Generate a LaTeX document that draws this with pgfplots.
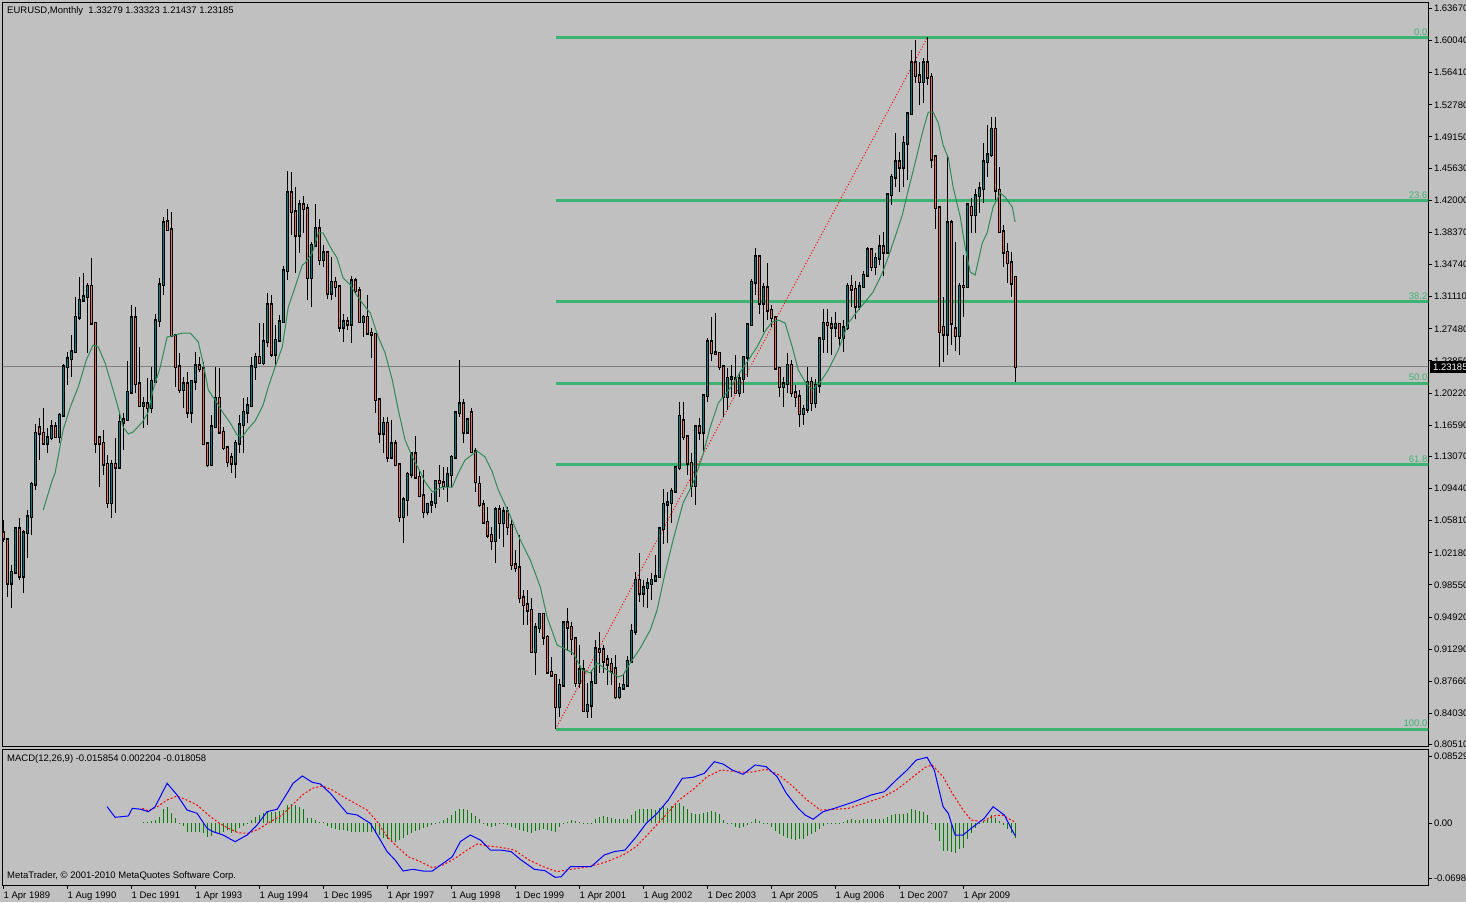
\documentclass[border=0pt]{standalone}
\usepackage{pgfplots}
\pgfplotsset{compat=1.18}
\usepackage{pgfplotstable}
\usepackage{fontspec}
\setmainfont{Liberation Sans}
\definecolor{bgc}{RGB}{192,192,192}
\definecolor{bullc}{RGB}{0,128,128}
\definecolor{bearc}{RGB}{230,112,88}
\definecolor{fibc}{RGB}{60,179,113}
\definecolor{mac}{RGB}{46,139,87}
\definecolor{histc}{RGB}{0,128,0}
\newcommand{\fs}{\fontsize{9.5}{11}\selectfont}

\pgfplotstableread{
m o h l c
2 0.9877 1.0081 0.9595 1.0001
3 1.0001 1.0510 0.9990 1.0487
5 0.9956 1.0476 0.9764 1.0442
6 1.0442 1.0702 1.0160 1.0623
7 1.0623 1.1018 1.0419 1.0995
8 1.0995 1.1673 1.0927 1.1571
11 1.1458 1.1628 1.1345 1.1515
12 1.1515 1.1718 1.1492 1.1639
14 1.1526 1.1797 1.1458 1.1774
15 1.1774 1.2350 1.1752 1.2317
16 1.2317 1.2486 1.2113 1.2407
17 1.2407 1.2678 1.2204 1.2486
18 1.2486 1.3107 1.2475 1.2881
19 1.2881 1.3333 1.2847 1.3073
20 1.3073 1.3378 1.3051 1.3107
21 1.3107 1.3265 1.2475 1.3231
27 1.0781 1.1266 1.0611 1.1221
29 1.1187 1.1797 1.1180 1.1695
30 1.1695 1.1797 1.1379 1.1718
31 1.1718 1.2384 1.1710 1.2034
32 1.2034 1.3017 1.2020 1.2870
35 1.1876 1.1978 1.1628 1.1899
37 1.1854 1.2317 1.1797 1.2158
38 1.2158 1.2915 1.2150 1.2836
39 1.2836 1.3322 1.2768 1.3243
40 1.3243 1.4010 1.3130 1.3943
45 1.2057 1.2204 1.1854 1.2125
47 1.1808 1.2170 1.1684 1.2158
48 1.2158 1.2486 1.2057 1.2328
52 1.1210 1.1774 1.1200 1.1639
53 1.1639 1.2317 1.1630 1.1966
58 1.1232 1.1492 1.1063 1.1458
59 1.1458 1.1774 1.1345 1.1662
60 1.1662 1.1966 1.1345 1.1808
61 1.1808 1.1978 1.1684 1.1876
62 1.1876 1.2429 1.1870 1.2317
63 1.2317 1.2475 1.2170 1.2429
65 1.2362 1.2813 1.2339 1.2599
66 1.2599 1.3152 1.2542 1.3017
68 1.2463 1.2791 1.2339 1.2621
69 1.2621 1.2904 1.2599 1.2825
70 1.2825 1.3457 1.2813 1.3401
71 1.3401 1.4530 1.3299 1.4282
74 1.3807 1.4202 1.3604 1.4146
77 1.3322 1.3728 1.2994 1.3694
78 1.3694 1.4157 1.3690 1.3875
80 1.3525 1.3694 1.3446 1.3604
82 1.3152 1.3559 1.3073 1.3276
85 1.2768 1.2915 1.2599 1.2825
87 1.2802 1.3344 1.2588 1.3288
90 1.2825 1.2904 1.2655 1.2881
95 1.1571 1.1752 1.1345 1.1684
97 1.1300 1.1718 1.1278 1.1447
100 1.0623 1.0848 1.0329 1.0815
101 1.0815 1.1131 1.0634 1.1108
102 1.1108 1.1345 1.1063 1.1334
106 1.0679 1.0781 1.0645 1.0769
107 1.0769 1.0894 1.0668 1.0781
108 1.0781 1.1040 1.0724 1.1029
111 1.0973 1.1187 1.0792 1.1097
112 1.1097 1.1323 1.0961 1.1300
113 1.1300 1.1808 1.1295 1.1797
114 1.1797 1.2396 1.1752 1.1899
116 1.1582 1.1725 1.1575 1.1718
123 1.0352 1.0735 1.0103 1.0702
125 1.0555 1.0735 1.0284 1.0679
133 0.9098 0.9426 0.8838 0.9369
134 0.9369 0.9538 0.9313 0.9527
139 0.8477 0.8793 0.8364 0.8725
140 0.8725 0.9437 0.8703 0.9426
144 0.8748 0.9177 0.8691 0.8895
146 0.8432 0.8748 0.8353 0.8499
147 0.8499 0.8895 0.8353 0.8748
148 0.8748 0.9234 0.8740 0.9132
154 0.8590 0.8748 0.8567 0.8691
155 0.8691 0.8838 0.8669 0.8725
156 0.8725 0.9053 0.8703 0.8996
157 0.8996 0.9414 0.8985 0.9335
158 0.9335 1.0001 0.9290 0.9911
160 0.9764 0.9911 0.9606 0.9821
161 0.9821 0.9934 0.9595 0.9866
162 0.9866 0.9990 0.9685 0.9911
163 0.9911 1.0193 0.9889 0.9945
164 0.9945 1.0510 0.9934 1.0487
165 1.0487 1.0939 1.0318 1.0769
166 1.0769 1.0905 1.0329 1.0781
167 1.0781 1.0950 1.0555 1.0916
168 1.0916 1.1180 1.0894 1.1176
169 1.1176 1.1921 1.1153 1.1763
173 1.0973 1.1645 1.0758 1.1639
175 1.1582 1.2012 1.1357 1.1989
176 1.1989 1.2644 1.1921 1.2599
181 1.1978 1.2305 1.1831 1.2192
182 1.2192 1.2339 1.1978 1.2195
184 1.2023 1.2260 1.1978 1.2181
185 1.2181 1.2435 1.2023 1.2429
186 1.2429 1.2802 1.2204 1.2791
187 1.2791 1.3310 1.2780 1.3276
188 1.3276 1.3660 1.3130 1.3559
190 1.3039 1.3265 1.2712 1.3209
195 1.2091 1.2204 1.1865 1.2125
196 1.2125 1.2475 1.2023 1.2339
200 1.1786 1.1887 1.1662 1.1842
201 1.1842 1.2317 1.1797 1.2147
203 1.1910 1.2181 1.1854 1.2113
204 1.2113 1.2644 1.2023 1.2633
205 1.2633 1.2972 1.2475 1.2813
208 1.2768 1.2938 1.2655 1.2802
210 1.2655 1.2847 1.2486 1.2757
211 1.2757 1.3265 1.2734 1.3231
214 1.3005 1.3276 1.2960 1.3220
215 1.3220 1.3401 1.3209 1.3355
216 1.3355 1.3672 1.3344 1.3638
218 1.3446 1.3604 1.3355 1.3547
219 1.3547 1.3807 1.3468 1.3672
221 1.3615 1.4282 1.3610 1.4259
222 1.4259 1.4496 1.4146 1.4462
223 1.4462 1.4959 1.4349 1.4632
225 1.4575 1.4925 1.4349 1.4846
226 1.4846 1.5185 1.4428 1.5174
227 1.5174 1.5896 1.5165 1.5750
230 1.5535 1.5806 1.5298 1.5750
236 1.2689 1.4711 1.2452 1.3943
239 1.2667 1.3265 1.2452 1.3231
241 1.3220 1.4169 1.3215 1.4146
243 1.4033 1.4327 1.3830 1.4248
244 1.4248 1.4406 1.4056 1.4327
245 1.4327 1.4846 1.4169 1.4632
246 1.4632 1.5049 1.4462 1.4711
247 1.4711 1.5140 1.4688 1.5004
}\bull

\pgfplotstableread{
m o h l c
0 1.0442 1.0589 1.0340 1.0385
1 1.0363 1.0370 0.9719 0.9877
4 1.0487 1.0611 0.9911 0.9956
9 1.1628 1.1741 1.1266 1.1571
10 1.1571 1.1854 1.1450 1.1458
13 1.1639 1.1695 1.1515 1.1526
22 1.3231 1.3547 1.2800 1.2813
23 1.2813 1.2825 1.1345 1.1458
24 1.1515 1.1530 1.0961 1.1458
25 1.1458 1.1605 1.1097 1.1221
26 1.1221 1.1323 1.0724 1.0781
28 1.1221 1.1515 1.0668 1.1187
33 1.2870 1.2994 1.2023 1.2125
34 1.2125 1.2542 1.1870 1.1876
36 1.1899 1.2192 1.1662 1.1854
41 1.3954 1.4101 1.3855 1.3864
42 1.3864 1.4067 1.2655 1.2667
43 1.2667 1.2680 1.2091 1.2317
44 1.2317 1.2475 1.2023 1.2057
46 1.2125 1.2260 1.1741 1.1808
49 1.2328 1.2429 1.2260 1.2294
50 1.2294 1.2373 1.1436 1.1447
51 1.1447 1.1447 1.1187 1.1210
54 1.1966 1.2305 1.1571 1.1582
55 1.1582 1.1639 1.1379 1.1402
56 1.1402 1.1410 1.1187 1.1244
57 1.1289 1.1345 1.1119 1.1232
64 1.2429 1.2813 1.2355 1.2362
67 1.3017 1.3130 1.2429 1.2463
72 1.4282 1.4519 1.3807 1.4067
73 1.4067 1.4349 1.3378 1.3807
75 1.4146 1.4248 1.3830 1.4101
76 1.4101 1.4157 1.3073 1.3322
79 1.3875 1.3988 1.3468 1.3525
81 1.3604 1.3627 1.3084 1.3152
83 1.3276 1.3333 1.3107 1.3220
84 1.3220 1.3225 1.2712 1.2768
86 1.2825 1.2881 1.2734 1.2802
88 1.3288 1.3322 1.3152 1.3175
89 1.3175 1.3220 1.2813 1.2825
91 1.2881 1.3130 1.2695 1.2700
92 1.2700 1.2757 1.2418 1.2689
93 1.2689 1.2695 1.1797 1.1944
94 1.1944 1.1950 1.1458 1.1571
96 1.1684 1.1752 1.1244 1.1300
98 1.1447 1.1492 1.1199 1.1210
99 1.1210 1.1215 1.0566 1.0623
103 1.1334 1.1537 1.1052 1.1074
104 1.1074 1.1153 1.0848 1.0860
105 1.0860 1.1153 1.0611 1.0679
109 1.1029 1.1210 1.0848 1.1007
110 1.1007 1.1187 1.0927 1.0973
115 1.1899 1.1955 1.1458 1.1582
117 1.1797 1.1854 1.1350 1.1357
118 1.1357 1.1402 1.0905 1.1018
119 1.0995 1.1086 1.0735 1.0758
120 1.0758 1.0815 1.0555 1.0566
121 1.0566 1.0735 1.0385 1.0419
122 1.0419 1.0510 1.0250 1.0352
124 1.0702 1.0758 1.0374 1.0555
126 1.0679 1.0735 1.0419 1.0510
127 1.0532 1.0611 1.0024 1.0081
128 1.0081 1.0250 1.0001 1.0047
129 1.0047 1.0419 0.9651 0.9708
130 0.9708 0.9798 0.9403 0.9629
131 0.9629 0.9798 0.9403 0.9572
132 0.9572 0.9708 0.9090 0.9098
135 0.9527 0.9538 0.9177 0.9267
136 0.9267 0.9290 0.8861 0.8872
137 0.8872 0.9042 0.8816 0.8838
138 0.8838 0.8845 0.8228 0.8477
141 0.9426 0.9595 0.9109 0.9380
142 0.9380 0.9437 0.9064 0.9245
143 0.9245 0.9267 0.8703 0.8748
145 0.8895 0.9008 0.8425 0.8432
149 0.9121 0.9324 0.8861 0.9098
150 0.9121 0.9177 0.8861 0.8996
151 0.9008 0.9064 0.8725 0.8962
152 0.8962 0.9030 0.8725 0.8883
153 0.8906 0.9064 0.8567 0.8590
159 0.9911 1.0216 0.9663 0.9764
170 1.1707 1.1921 1.1492 1.1526
171 1.1526 1.1549 1.1097 1.1232
172 1.1232 1.1345 1.0848 1.0973
174 1.1639 1.1741 1.1492 1.1582
177 1.2599 1.2881 1.2384 1.2475
178 1.2475 1.2926 1.2463 1.2470
179 1.2470 1.2486 1.2283 1.2317
180 1.2317 1.2339 1.1752 1.1978
183 1.2181 1.2452 1.2015 1.2023
189 1.3559 1.3581 1.2915 1.3039
191 1.3209 1.3491 1.2847 1.2960
192 1.2960 1.3017 1.2768 1.2870
193 1.2870 1.2881 1.2283 1.2305
194 1.2305 1.2310 1.1978 1.2091
197 1.2339 1.2396 1.1978 1.2023
198 1.2023 1.2113 1.1865 1.1978
199 1.1978 1.2057 1.1639 1.1786
202 1.2147 1.2204 1.1820 1.1910
206 1.2813 1.2972 1.2475 1.2791
207 1.2791 1.2881 1.2452 1.2768
209 1.2802 1.2810 1.2542 1.2655
212 1.3231 1.3355 1.2994 1.3197
213 1.3197 1.3288 1.2859 1.3005
217 1.3638 1.3660 1.3401 1.3446
220 1.3672 1.3841 1.3344 1.3615
224 1.4632 1.4745 1.4293 1.4575
228 1.5750 1.6009 1.5524 1.5603
229 1.5603 1.5761 1.5275 1.5535
231 1.5750 1.6038 1.5501 1.5591
232 1.5591 1.5637 1.4564 1.4665
233 1.4688 1.4700 1.3875 1.4112
234 1.4112 1.4120 1.2317 1.2712
235 1.2768 1.3107 1.2373 1.2689
237 1.3943 1.3977 1.2565 1.2813
238 1.2746 1.3728 1.2497 1.2667
240 1.3231 1.3581 1.2881 1.3220
242 1.4123 1.4225 1.3830 1.4033
248 1.5004 1.5140 1.4202 1.4315
249 1.4315 1.4575 1.3835 1.3841
250 1.3841 1.3920 1.3446 1.3615
251 1.3615 1.3717 1.3265 1.3491
252 1.3491 1.3615 1.3107 1.3265
253 1.33279 1.33323 1.21437 1.23185
}\bear

\begin{document}
\begin{tikzpicture}[x=1pt,y=1pt]
\fill[bgc] (0pt,0pt) rectangle (1466pt,902pt);

\begin{axis}[
  at={(2.7pt,155.3pt)}, anchor=south west,
  scale only axis, width=1425.6pt, height=744pt,
  xmin=-0.2, xmax=356.2, ymin=0.80285, ymax=1.64305,
  axis line style={line width=1pt, black},
  xtick=\empty,
  scaled y ticks=false,
  ytick={1.6367,1.6004,1.5641,1.5278,1.4915,1.4563,1.42,1.3837,1.3474,1.3111,1.2748,1.2385,1.2022,1.1659,1.1307,1.0944,1.0581,1.0218,0.9855,0.9492,0.9129,0.8766,0.8403,0.8051},
  yticklabels={1.63670,1.60040,1.56410,1.52780,1.49150,1.45630,1.42000,1.38370,1.34740,1.31110,1.27480,1.23850,1.20220,1.16590,1.13070,1.09440,1.05810,1.02180,0.98550,0.94920,0.91290,0.87660,0.84030,0.80510},
  ytick pos=right, yticklabel pos=right,
  tick align=outside, major tick length=4pt,
  tick style={black, line width=1pt},
  yticklabel style={anchor=west, inner sep=0pt, xshift=1.5pt, font=\fs},
  /pgf/number format/assume math mode=true,
]
% Fibonacci levels
\addplot[fibc, line width=3pt, forget plot] coordinates {(138,1.6038) (360,1.6038)};
\addplot[fibc, line width=3pt, forget plot] coordinates {(138,1.41948) (360,1.41948)};
\addplot[fibc, line width=3pt, forget plot] coordinates {(138,1.30546) (360,1.30546)};
\addplot[fibc, line width=3pt, forget plot] coordinates {(138,1.2133) (360,1.2133)};
\addplot[fibc, line width=3pt, forget plot] coordinates {(138,1.12114) (360,1.12114)};
\addplot[fibc, line width=3pt, forget plot] coordinates {(138,0.8228) (360,0.8228)};
% Fibonacci trend line
\addplot[red, line width=1pt, dash pattern=on 1pt off 2pt, forget plot] coordinates {(138,0.8228) (231,1.6038)};
% current price line
\addplot[gray, line width=1pt, forget plot] coordinates {(-5,1.23185) (360,1.23185)};

% candles: wicks
\addplot[black, line width=1pt, -, forget plot, quiver={u=0, v=\thisrow{h}-\thisrow{l}}] table[x=m, y=l] {\bull};
\addplot[black, line width=1pt, -, forget plot, quiver={u=0, v=\thisrow{h}-\thisrow{l}}] table[x=m, y=l] {\bear};
% candle bodies (outline)
\addplot[black, line width=3pt, line cap=rect, -, forget plot, quiver={u=0, v=\thisrow{c}-\thisrow{o}}] table[x=m, y=o] {\bull};
\addplot[black, line width=3pt, line cap=rect, -, forget plot, quiver={u=0, v=\thisrow{o}-\thisrow{c}}] table[x=m, y=c] {\bear};
% candle bodies (fill)
\addplot[bullc, line width=1.2pt, line cap=butt, -, forget plot, quiver={u=0, v=\thisrow{c}-\thisrow{o}}] table[x=m, y=o] {\bull};
\addplot[bearc, line width=1.2pt, line cap=butt, -, forget plot, quiver={u=0, v=\thisrow{o}-\thisrow{c}}] table[x=m, y=c] {\bear};

% moving average
\addplot[mac, line width=1pt, forget plot] coordinates {
(9.93,1.0702) (12.2,1.1040) (12.9,1.1119) (14.9,1.1605) (16.7,1.1865) (18.7,1.2091) (20.7,1.2396) (22.4,1.2565) (23.7,1.2542) (25.4,1.2362) (27.4,1.2057) (28.9,1.1820) (29.9,1.1639) (31.2,1.1560) (32.4,1.1582) (34.7,1.1695) (36.2,1.1808) (37.4,1.2057) (39.2,1.2317) (40.9,1.2655) (42.2,1.2667) (44.7,1.2700) (46.7,1.2700) (48.7,1.2599) (49.9,1.2362) (51.2,1.2057) (53.4,1.1910) (54.9,1.1797) (56.7,1.1684) (58.4,1.1548) (59.7,1.1526) (60.9,1.1605) (62.9,1.1707) (64.9,1.1887) (66.2,1.2091) (67.9,1.2317) (69.7,1.2542) (71.2,1.2994) (72.9,1.3220) (74.7,1.3468) (75.4,1.3491) (77.2,1.3604) (78.7,1.3830) (79.9,1.3830) (81.7,1.3672) (83.4,1.3547) (84.9,1.3322) (86.7,1.3243) (87.9,1.3152) (89.7,1.3039) (91.7,1.2926) (93.7,1.2655) (95.4,1.2475) (97.2,1.2170) (98.7,1.1831) (100.4,1.1492) (102.2,1.1300) (103.7,1.1176) (105.4,1.1018) (107.2,1.0905) (109.7,1.0961) (112.2,1.0961) (113.7,1.1119) (115.4,1.1266) (118.4,1.1368) (120.4,1.1300) (122.2,1.1131) (123.7,1.0927) (126.7,1.0634) (129.2,1.0363) (131.7,1.0137) (134.2,0.9832) (135.9,0.9493) (138.4,0.9177) (140.9,0.9121) (142.4,0.9087) (144.7,0.8895) (146.7,0.8861) (148.4,0.8974) (150.9,0.8895) (153.7,0.8816) (154.9,0.8838) (156.7,0.8974) (159.2,0.9143) (161.7,0.9346) (163.4,0.9572) (165.4,0.9990) (167.4,1.0363) (169.9,1.0781) (172.4,1.1007) (174.7,1.1300) (176.7,1.1639) (178.7,1.1910) (181.7,1.2079) (184.2,1.2260) (186.7,1.2429) (188.4,1.2542) (190.4,1.2723) (192.2,1.2825) (193.7,1.2847) (195.4,1.2813) (197.2,1.2542) (198.7,1.2283) (200.4,1.2147) (202.2,1.2057) (204.2,1.2147) (206.2,1.2283) (208.7,1.2508) (211.2,1.2813) (213.7,1.2960) (215.4,1.3051) (217.4,1.3164) (219.7,1.3378) (221.2,1.3559) (222.9,1.3785) (224.7,1.4033) (226.2,1.4315) (227.9,1.4620) (229.7,1.4959) (231.2,1.5196) (232.4,1.5196) (233.7,1.5072) (234.9,1.4823) (236.2,1.4677) (237.4,1.4349) (239.2,1.4010) (240.4,1.3672) (241.7,1.3389) (242.9,1.3355) (244.7,1.3717) (245.9,1.3830) (247.4,1.4123) (249.2,1.4282) (250.4,1.4236) (252.2,1.4123) (252.9,1.3954)
};

% Fibonacci labels
\node[anchor=south east, text=fibc, inner sep=0.5pt, yshift=1.5pt, font=\fs] at (axis cs:356.15,1.6038) {0.0};
\node[anchor=south east, text=fibc, inner sep=0.5pt, yshift=1.5pt, font=\fs] at (axis cs:356.15,1.41948) {23.6};
\node[anchor=south east, text=fibc, inner sep=0.5pt, yshift=1.5pt, font=\fs] at (axis cs:356.15,1.30546) {38.2};
\node[anchor=south east, text=fibc, inner sep=0.5pt, yshift=1.5pt, font=\fs] at (axis cs:356.15,1.2133) {50.0};
\node[anchor=south east, text=fibc, inner sep=0.5pt, yshift=1.5pt, font=\fs] at (axis cs:356.15,1.12114) {61.8};
\node[anchor=south east, text=fibc, inner sep=0.5pt, yshift=1.5pt, font=\fs] at (axis cs:356.15,0.8228) {100.0};
\end{axis}

\begin{axis}[
  at={(2.7pt,17pt)}, anchor=south west,
  scale only axis, width=1425.6pt, height=135.7pt,
  xmin=-0.2, xmax=356.2, ymin=-0.0785, ymax=0.09415,
  axis line style={line width=1pt, black},
  scaled y ticks=false, scaled x ticks=false,
  xtick={0,16,32,48,64,80,96,112,128,144,160,176,192,208,224,240},
  xticklabels={1 Apr 1989,1 Aug 1990,1 Dec 1991,1 Apr 1993,1 Aug 1994,1 Dec 1995,1 Apr 1997,1 Aug 1998,1 Dec 1999,1 Apr 2001,1 Aug 2002,1 Dec 2003,1 Apr 2005,1 Aug 2006,1 Dec 2007,1 Apr 2009},
  xtick pos=left,
  ytick={0.08529,0,-0.06985},
  yticklabels={0.085290,0.00,-0.069850},
  ytick pos=right, yticklabel pos=right,
  tick align=outside, major tick length=4pt,
  tick style={black, line width=1pt},
  yticklabel style={anchor=west, inner sep=0pt, xshift=1.5pt, font=\fs},
  xticklabel style={anchor=north west, inner sep=0pt, yshift=-2.5pt, font=\fs},
  /pgf/number format/assume math mode=true,
]
\addplot[ycomb, draw=histc, color=histc, line width=1pt, mark=none, forget plot] coordinates {
(35,0.0013) (36,0.0013) (37,0.003) (38,0.0042) (39,0.0085) (40,0.0178) (41,0.0204) (42,0.0127) (43,0.0064) (44,0.0004) (45,-0.003) (46,-0.0106) (47,-0.0106) (48,-0.0114) (49,-0.0106) (50,-0.0127) (51,-0.0178) (52,-0.0161) (53,-0.0106) (54,-0.0127) (55,-0.0106) (56,-0.0085) (57,-0.0127) (58,-0.0106) (59,-0.0064) (60,-0.003) (61,0.0004) (62,0.0042) (63,0.0085) (64,0.0106) (65,0.0127) (66,0.0157) (67,0.0148) (68,0.014) (69,0.0157) (70,0.017) (71,0.0233) (72,0.0242) (73,0.0233) (74,0.0212) (75,0.0182) (76,0.0072) (77,0.0064) (78,0.0042) (79,0.0013) (80,0.0013) (81,-0.003) (82,-0.0064) (83,-0.0072) (84,-0.0085) (85,-0.0085) (86,-0.0098) (87,-0.0106) (88,-0.0106) (89,-0.0114) (90,-0.0106) (91,-0.0106) (92,-0.0114) (93,-0.0127) (94,-0.0148) (95,-0.0191) (96,-0.0199) (97,-0.0233) (98,-0.0242) (99,-0.0212) (100,-0.0191) (101,-0.0148) (102,-0.0127) (103,-0.0093) (104,-0.0085) (105,-0.0064) (106,-0.0047) (107,-0.0021) (108,0.0004) (109,0.0021) (110,0.0042) (111,0.0064) (112,0.0106) (113,0.0157) (114,0.0182) (115,0.0182) (116,0.017) (117,0.0127) (118,0.0098) (119,0.0051) (120,0.0004) (121,-0.003) (122,-0.0042) (123,-0.003) (124,-0.0013) (125,-0.0013) (126,-0.0025) (127,-0.0042) (128,-0.0055) (129,-0.0085) (130,-0.0098) (131,-0.011) (132,-0.0119) (133,-0.0098) (134,-0.0085) (135,-0.0076) (136,-0.0085) (137,-0.0098) (138,-0.011) (139,-0.0042) (140,0.0008) (141,0.0017) (142,0.0038) (143,0.0025) (144,0.0017) (145,-0.0004) (146,-0.0013) (147,0.0008) (148,0.0051) (149,0.0076) (150,0.0093) (151,0.0085) (152,0.0072) (153,0.0059) (154,0.0051) (155,0.0051) (156,0.0059) (157,0.0102) (158,0.0157) (159,0.0178) (160,0.0187) (161,0.0187) (162,0.0178) (163,0.017) (164,0.0199) (165,0.022) (166,0.0199) (167,0.022) (168,0.0229) (169,0.0254) (170,0.022) (171,0.0187) (172,0.0127) (173,0.0114) (174,0.0114) (175,0.0127) (176,0.0144) (177,0.0157) (178,0.0144) (179,0.0114) (180,0.0042) (181,0.0004) (182,-0.0013) (183,-0.0042) (184,-0.0055) (185,-0.0042) (186,-0.0025) (187,0.0017) (188,0.0051) (189,0.003) (190,0.0008) (191,-0.0013) (192,-0.0042) (193,-0.0098) (194,-0.014) (195,-0.0161) (196,-0.0182) (197,-0.0204) (198,-0.0212) (199,-0.0204) (200,-0.0195) (201,-0.0161) (202,-0.014) (203,-0.011) (204,-0.0076) (205,-0.0034) (206,-0.0013) (207,0.0008) (208,0.0008) (209,0.0008) (210,0.0017) (211,0.0042) (212,0.0051) (213,0.0038) (214,0.0042) (215,0.0051) (216,0.0051) (217,0.0051) (218,0.0051) (219,0.0051) (220,0.0059) (221,0.0085) (222,0.0102) (223,0.0114) (224,0.0114) (225,0.0114) (226,0.0127) (227,0.0178) (228,0.017) (229,0.0157) (230,0.0144) (231,0.0102) (232,-0.0013) (233,-0.0085) (234,-0.0225) (235,-0.0352) (236,-0.0352) (237,-0.0365) (238,-0.0373) (239,-0.0331) (240,-0.031) (241,-0.0204) (242,-0.0119) (243,-0.0055) (244,-0.0013) (245,0.003) (246,0.0051) (247,0.0102) (248,0.0072) (249,0.003) (250,-0.0025) (251,-0.0076) (252,-0.0119) (253,-0.0181)
};
\addplot[red, line width=1pt, dash pattern=on 2pt off 2pt, forget plot] coordinates {
(34.7,0.019) (36.2,0.016) (38.4,0.021) (40.9,0.0296) (43.4,0.0347) (45.4,0.0305) (48.4,0.0233) (51.2,0.0106) (53.7,0.001) (56.2,-0.0064) (58.7,-0.012) (61.2,-0.0127) (63.7,-0.0076) (66.7,0.002) (69.7,0.0106) (72.2,0.0233) (74.7,0.036) (77.2,0.0445) (79.7,0.0475) (82.2,0.0424) (84.9,0.0339) (87.9,0.0254) (90.9,0.0169) (93.4,0.002) (95.9,-0.017) (98.4,-0.0297) (101.2,-0.0425) (104.2,-0.0488) (107.2,-0.0565) (109.9,-0.053) (112.9,-0.0445) (115.9,-0.034) (118.4,-0.0263) (121.2,-0.0289) (124.2,-0.0305) (127.7,-0.034) (131.4,-0.0467) (134.9,-0.0552) (138.4,-0.0615) (141.9,-0.0585) (146.4,-0.0552) (150.9,-0.0488) (154.9,-0.0403) (158.2,-0.0297) (161.7,-0.0107) (165.2,0.0084) (168.9,0.0296) (172.4,0.0432) (175.9,0.0593) (179.4,0.0678) (183.2,0.0656) (186.7,0.0649) (190.7,0.0687) (193.9,0.0614) (197.4,0.0466) (200.9,0.0296) (204.2,0.0169) (207.7,0.0178) (211.2,0.019) (215.2,0.0254) (219.7,0.0331) (223.2,0.0424) (226.9,0.0572) (230.4,0.0712) (232.2,0.0742) (234.9,0.0593) (237.2,0.0382) (239.9,0.0169) (241.9,0.0042) (244.7,0.002) (247.4,0.0093) (249.7,0.0106) (252.7,0.002) (253,0.0022)
};
\addplot[blue, line width=1pt, forget plot] coordinates {
(25.9,0.0211) (27.9,0.0076) (31.2,0.0093) (32.2,0.019) (34.2,0.018) (36.2,0.0148) (37.9,0.021) (40.9,0.0509) (43.4,0.036) (45.9,0.0169) (48.4,0.0127) (50.9,-0.0064) (52.4,-0.0107) (54.9,-0.0149) (57.9,-0.0234) (60.9,-0.0149) (63.4,-0.0022) (65.9,0.0148) (68.4,0.0178) (70.9,0.0382) (72.4,0.0509) (74.7,0.0602) (77.2,0.0522) (79.2,0.05) (81.7,0.0382) (85.9,0.0127) (88.4,0.0106) (91.7,0.0) (94.2,-0.0212) (95.9,-0.0361) (97.9,-0.0467) (99.9,-0.0607) (102.4,-0.0585) (104.9,-0.0607) (107.2,-0.0607) (109.9,-0.0509) (112.2,-0.0425) (114.2,-0.0234) (116.7,-0.0149) (119.2,-0.0212) (121.7,-0.034) (124.2,-0.034) (126.9,-0.036) (129.4,-0.0467) (132.7,-0.0585) (135.4,-0.0603) (137.9,-0.0687) (139.4,-0.068) (141.7,-0.0552) (143.4,-0.0552) (146.9,-0.0552) (150.2,-0.0403) (152.7,-0.036) (155.4,-0.034) (158.2,-0.017) (160.7,0.0) (163.4,0.0127) (166.2,0.0296) (169.7,0.0572) (172.4,0.0585) (175.2,0.0636) (177.7,0.0784) (179.9,0.0754) (182.2,0.0678) (184.9,0.0623) (187.9,0.0742) (190.7,0.072) (193.4,0.0593) (195.7,0.0382) (198.7,0.019) (200.4,0.0106) (202.4,0.0051) (204.9,0.0148) (207.7,0.019) (212.7,0.0275) (216.9,0.036) (220.2,0.0402) (223.2,0.0551) (225.9,0.0678) (228.2,0.0805) (230.9,0.084) (232.7,0.0678) (234.9,0.0211) (236.2,0.0127) (237.9,-0.0149) (239.9,-0.0149) (241.9,-0.0064) (245.2,0.0064) (247.4,0.0211) (250.2,0.0106) (252.7,-0.0140) (253,-0.0159)
};
\end{axis}

% texts
\node[anchor=west, inner sep=0pt, font=\fs] at (7pt,891pt) {EURUSD,Monthly\ \ 1.33279 1.33323 1.21437 1.23185};
\node[anchor=west, inner sep=0pt, font=\fs] at (7pt,142.5pt) {MACD(12,26,9) -0.015854 0.002204 -0.018058};
\node[anchor=west, inner sep=0pt, font=\fs] at (7pt,25.5pt) {MetaTrader, © 2001-2010 MetaQuotes Software Corp.};
% current price tag
\fill[black] (1429.5pt,529pt) rectangle (1466pt,541pt);
\node[anchor=west, inner sep=0pt, text=white, font=\fs] at (1433pt,535pt) {1.23185};
% fix the page to the canvas
\pgfresetboundingbox
\path[use as bounding box] (0pt,0pt) rectangle (1466pt,902pt);
\end{tikzpicture}
\end{document}
